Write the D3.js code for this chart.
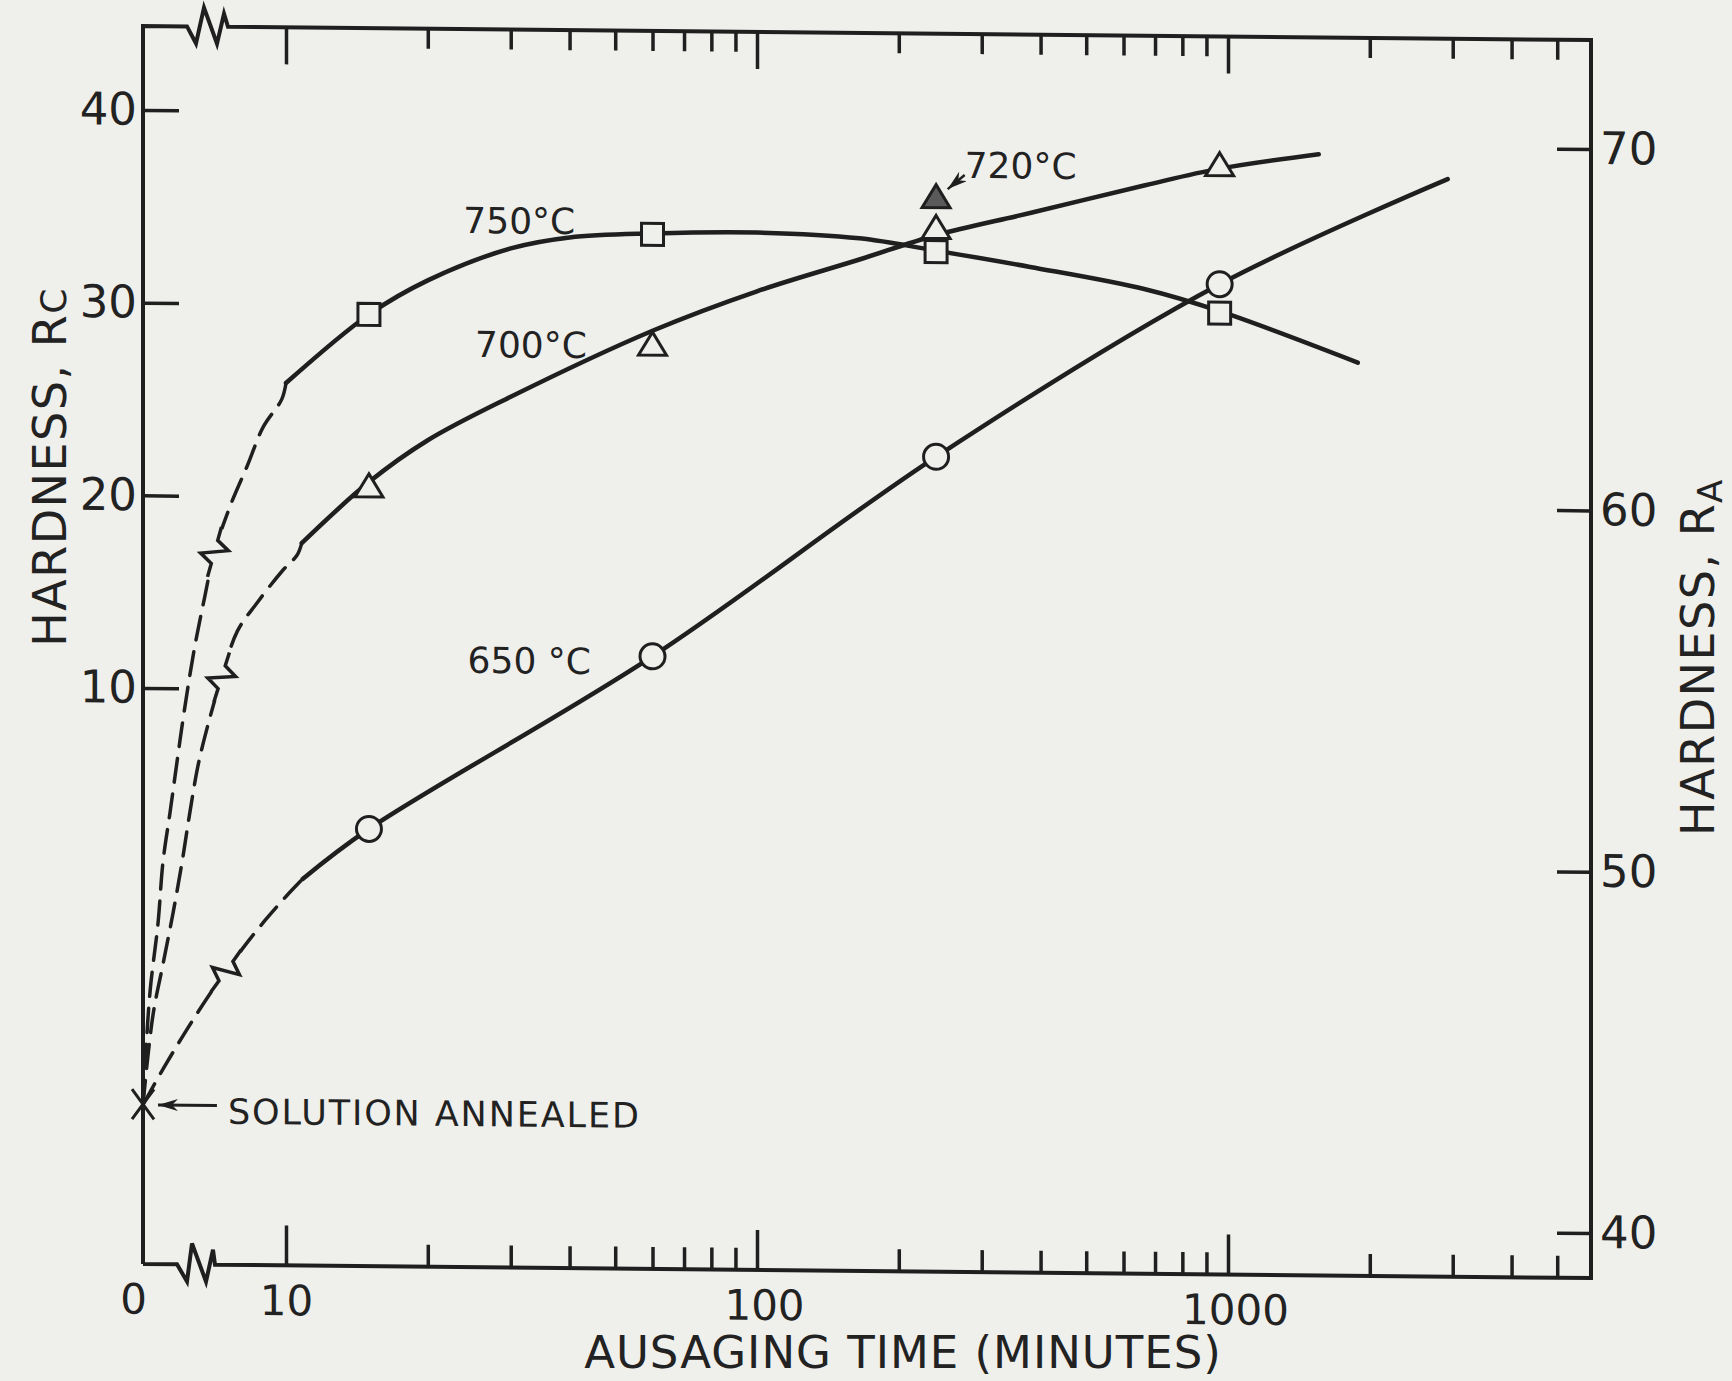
<!DOCTYPE html>
<html><head><meta charset="utf-8">
<script src="https://cdn.jsdelivr.net/npm/d3@7"></script>
<style>
html,body{margin:0;padding:0;background:#efefec;}
svg{display:block;}
text{font-family:"DejaVu Sans", "Liberation Sans", Arial, sans-serif; fill:#222;}
</style></head><body>
<svg id="chart" width="1732" height="1381"></svg>
<script>
// ---------------- DATA ----------------
// measured points (time in minutes, hardness in Rc)
const markerTimes = [15, 60, 240, 960];
const hard750 = [29.5, 33.8, 33.05, 30.0];
const hard700 = [20.5, 28.0, 34.2, 37.6];
const hard650 = [2.8, 11.9, 22.4, 31.5];
const time720 = [240];
const hard720 = [35.8];
const annealedTime = [0];
const annealedHard = [-11.6];

// drawn curves (solid parts)
const curve750T = [10, 15, 20, 30, 40, 60, 100, 165, 240, 380, 667, 960, 1886];
const curve750H = [25.9, 29.5, 31.3, 33.0, 33.6, 33.85, 33.95, 33.7, 33.1, 32.3, 31.2, 30.1, 27.5];
const curve700T = [10.8, 15, 20, 30, 60, 100, 165, 240, 380, 667, 960, 1558];
const curve700H = [17.6, 20.8, 23.0, 25.3, 28.8, 30.9, 32.6, 33.9, 35.1, 36.6, 37.5, 38.3];
const curve650T = [10.85, 15, 60, 240, 960, 2927];
const curve650H = [0.17, 2.8, 11.9, 22.4, 31.5, 37.07];

// dashed (extrapolated) parts, across the broken time axis
const dash750T = [0, 0.15, 0.5, 1.05, 1.4, 1.9, 2.4, 2.9, 3.6, 4.3, 5.0, 6.1, 7.3, 8.4, 9.7, 10];
const dash750H = [-11.6, -9.5, -5.7, -2.2, 1.0, 3.6, 6.3, 8.9, 12.1, 14.7, 17.1, 19.5, 21.6, 23.6, 25.05, 25.9];
const dash700T = [0, 0.7, 1.4, 2.1, 2.73, 3.29, 3.85, 4.55, 5.5, 6.6, 7.97, 9.72, 10.56, 10.8];
const dash700H = [-11.6, -6.96, -4.32, -1.67, 0.98, 3.62, 6.01, 8.14, 10.6, 13.0, 14.47, 16.13, 16.98, 17.6];
const dash650T = [0, 1.5, 3, 4.5, 5.8, 7, 8.5, 10, 10.85];
const dash650H = [-11.63, -9.64, -7.79, -6.04, -4.65, -3.44, -2.03, -0.75, 0.17];
const breakT = [5.0, 5.5, 5.8];
const breakH = [17.1, 10.6, -4.65];

// ticks
const xMajor = [10, 100, 1000];
const xMinor = [20,30,40,50,60,70,80,90,200,300,400,500,600,700,800,900,2000,3000,4000,5000];
const yLeftTicks = [10, 20, 30, 40];
const yRightTicks = [40, 50, 60, 70];

// labels
const curveLabels = ["750°C", "700°C", "650 °C", "720°C"];
const labelT = [23.8, 25.2, 24.3, 276];
const labelH = [33.78, 27.35, 10.95, 36.89];

// ---------------- LAYOUT ----------------
const frame = {left:143, right:1591, top:26, bottom:1264, brk:286};
const INK = "#1f1f1f";
const BG = "#efefec";
const FONT = '"DejaVu Sans", "Liberation Sans", Arial, sans-serif';
const xBreak = d3.scaleLinear().domain([0,10]).range([frame.left, frame.brk]);
const xLog = d3.scaleLog().domain([10,1000]).range([frame.brk, 1228]);
const x = t => t < 10 ? xBreak(t) : xLog(t);
const yL = d3.scaleLinear().domain([40,10]).range([110,688]);
const yR = d3.scaleLinear().domain([70,40]).range([135,1219]);

const svg = d3.select("#chart");
svg.append("rect").attr("width",1732).attr("height",1381).attr("fill",BG);

const skewDeg = Math.atan(0.0097)*180/Math.PI;
const g = svg.append("g")
  .attr("transform", `translate(${frame.left},0) skewY(${skewDeg}) translate(${-frame.left},0)`);

// frame with axis breaks
const topZig = [[0,0],[9,17],[17,-19],[30,17],[37,-13],[41,0]];
const botZig = [[0,0],[10,17],[15,-21],[29,17],[36,-15],[38,0]];
const topStart = 187, botStart = 177;
let p = `M${frame.left},${frame.bottom} V${frame.top} H${topStart}`;
topZig.forEach(d => p += ` L${topStart+d[0]},${frame.top+d[1]}`);
p += ` H${frame.right} V${frame.bottom}`;
p += ` H${botStart+botZig[botZig.length-1][0]}`;
botZig.slice().reverse().forEach(d => p += ` L${botStart+d[0]},${frame.bottom+d[1]}`);
p += ` H${frame.left}`;
g.append("path").attr("d", p).attr("fill","none").attr("stroke",INK)
  .attr("stroke-width",4).attr("stroke-linejoin","miter");

function styleAxis(sel, fs){
  sel.select(".domain").remove();
  sel.selectAll(".tick line").attr("stroke",INK).attr("stroke-width",3.5);
  sel.selectAll(".tick text").attr("fill","#222").attr("font-size",fs).attr("font-family",FONT);
}
// bottom axis
g.append("g").attr("transform",`translate(0,${frame.bottom})`)
  .call(d3.axisBottom(xLog).tickValues(xMinor).tickSize(-22).tickFormat(""))
  .call(s=>styleAxis(s,42));
g.append("g").attr("transform",`translate(0,${frame.bottom})`)
  .call(d3.axisBottom(xLog).tickValues(xMajor).tickSize(-40).tickPadding(20).tickFormat(d3.format("d")))
  .call(s=>styleAxis(s,42))
  .call(s=>s.selectAll(".tick text").attr("dx", d => d >= 100 ? 7 : 0));
g.append("g").attr("transform",`translate(-10,${frame.bottom})`)
  .call(d3.axisBottom(xBreak).tickValues([0]).tickSize(0).tickPadding(20).tickFormat(d3.format("d")))
  .call(s=>styleAxis(s,42));
// top axis
g.append("g").attr("transform",`translate(0,${frame.top})`)
  .call(d3.axisTop(xLog).tickValues(xMinor).tickSize(-20).tickFormat(""))
  .call(s=>styleAxis(s,42));
g.append("g").attr("transform",`translate(0,${frame.top})`)
  .call(d3.axisTop(xLog).tickValues(xMajor).tickSize(-37).tickFormat(""))
  .call(s=>styleAxis(s,42));
// left axis
g.append("g").attr("transform",`translate(${frame.left},0)`)
  .call(d3.axisLeft(yL).tickValues(yLeftTicks).tickSize(-36).tickPadding(6).tickFormat(d3.format("d")))
  .call(s=>styleAxis(s,45));
// right axis
g.append("g").attr("transform",`translate(${frame.right},0)`)
  .call(d3.axisRight(yR).tickValues(yRightTicks).tickSize(-34).tickPadding(9).tickFormat(d3.format("d")))
  .call(s=>styleAxis(s,45));

// curves
const zip = (a,b) => a.map((v,i)=>[v,b[i]]);
const line = d3.line().x(d=>x(d[0])).y(d=>yL(d[1])).curve(d3.curveCatmullRom.alpha(0.5));
const dashSets = [[dash750T,dash750H],[dash700T,dash700H],[dash650T,dash650H]];
dashSets.forEach(([t,h])=>{
  g.append("path").attr("d", line(zip(t,h))).attr("fill","none").attr("stroke",INK)
   .attr("stroke-width",3.5).attr("stroke-dasharray","24,12").attr("stroke-linecap","round");
});
[[curve750T,curve750H],[curve700T,curve700H],[curve650T,curve650H]].forEach(([t,h])=>{
  g.append("path").attr("d", line(zip(t,h))).attr("fill","none").attr("stroke",INK)
   .attr("stroke-width",4.5).attr("stroke-linecap","round");
});
// break marks on the dashed curves (zigzag laid along the curve)
zip(breakT, breakH).forEach((d,i)=>{
  const [t,h] = dashSets[i];
  const k = t.indexOf(d[0]);
  const ax = x(t[k-1]), ay = yL(h[k-1]), bx = x(t[k+1]), by = yL(h[k+1]);
  const ang = Math.atan2(by-ay, bx-ax)*180/Math.PI;
  const mg = g.append("g").attr("transform",`translate(${x(d[0])},${yL(d[1])}) rotate(${ang})`);
  mg.append("line").attr("x1",-24).attr("x2",24).attr("stroke",BG).attr("stroke-width",9);
  mg.append("path").attr("d","M-26,0 L-12,0 L-5,-13 L5,13 L12,0 L26,0").attr("fill","none")
    .attr("stroke",INK).attr("stroke-width",3.5).attr("stroke-linejoin","miter");
});

// markers
zip(markerTimes, hard750).forEach(d=>{
  g.append("rect").attr("x",x(d[0])-11).attr("y",yL(d[1])-11).attr("width",22).attr("height",22)
   .attr("fill",BG).attr("stroke",INK).attr("stroke-width",3);
});
const tri = "M0,-14 L14,9 L-14,9 Z";
zip(markerTimes, hard700).forEach(d=>{
  g.append("path").attr("transform",`translate(${x(d[0])},${yL(d[1])})`).attr("d",tri)
   .attr("fill",BG).attr("stroke",INK).attr("stroke-width",3).attr("stroke-linejoin","miter");
});
zip(time720, hard720).forEach(d=>{
  g.append("path").attr("transform",`translate(${x(d[0])},${yL(d[1])})`).attr("d",tri)
   .attr("fill","#5a5a5a").attr("stroke",INK).attr("stroke-width",3);
});
zip(markerTimes, hard650).forEach(d=>{
  g.append("circle").attr("cx",x(d[0])).attr("cy",yL(d[1])).attr("r",12.5)
   .attr("fill",BG).attr("stroke",INK).attr("stroke-width",3);
});
zip(annealedTime, annealedHard).forEach(d=>{
  const cx = x(d[0]), cy = yL(d[1]);
  g.append("path").attr("d",`M${cx-11},${cy-15} L${cx+11},${cy+15} M${cx+11},${cy-15} L${cx-11},${cy+15}`)
   .attr("stroke",INK).attr("stroke-width",3).attr("fill","none");
});

// curve labels
zip(labelT, labelH).forEach((d,i)=>{
  g.append("text").attr("x",x(d[0])).attr("y",yL(d[1])).attr("font-size",36).text(curveLabels[i]);
});

// arrows
const defs = svg.append("defs");
defs.append("marker").attr("id","arr").attr("viewBox","0 0 20 12").attr("refX",20).attr("refY",6)
  .attr("markerWidth",20).attr("markerHeight",12).attr("markerUnits","userSpaceOnUse").attr("orient","auto")
  .append("path").attr("d","M20,6 L0,0 L6,6 L0,12 Z").attr("fill",INK);
// 720 arrow
g.append("line").attr("x1",x(276)).attr("y1",yL(37.04)).attr("x2",x(254)).attr("y2",yL(36.3))
  .attr("stroke",INK).attr("stroke-width",2.5).attr("marker-end","url(#arr)");
// solution annealed arrow + label
g.append("line").attr("x1",x(5.17)).attr("y1",yL(-11.63)).attr("x2",x(1.05)).attr("y2",yL(-11.63))
  .attr("stroke",INK).attr("stroke-width",3).attr("marker-end","url(#arr)");
g.append("text").attr("x",x(5.94)).attr("y",yL(-12.57)).attr("font-size",35)
  .attr("letter-spacing",1.9).text("SOLUTION ANNEALED");

// axis titles
const lt = svg.append("text").attr("transform","translate(66,467) rotate(-90)")
  .attr("text-anchor","middle").attr("font-size",46).attr("letter-spacing",1.5);
lt.append("tspan").text("HARDNESS, R");
lt.append("tspan").attr("font-size",36).text("C");
const rt = svg.append("text").attr("transform","translate(1714,657) rotate(-90)")
  .attr("text-anchor","middle").attr("font-size",46).attr("letter-spacing",1.5);
rt.append("tspan").text("HARDNESS, R");
rt.append("tspan").attr("font-size",34).attr("dy",8).text("A");
svg.append("text").attr("x",903).attr("y",1368).attr("text-anchor","middle")
  .attr("font-size",45).attr("letter-spacing",1).text("AUSAGING TIME (MINUTES)");
</script>
</body></html>
